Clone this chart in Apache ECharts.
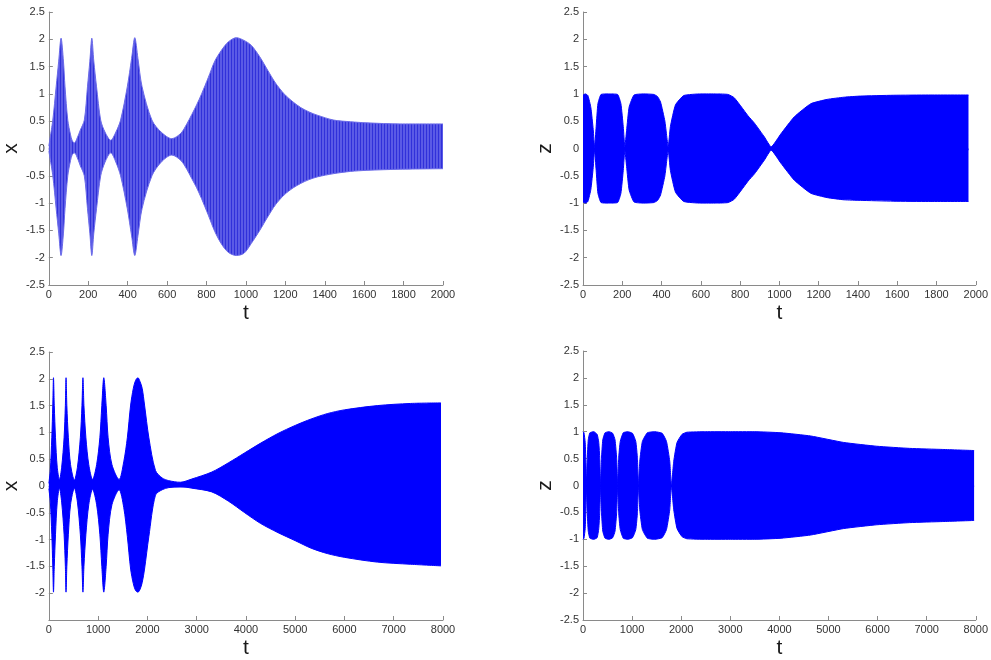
<!DOCTYPE html>
<html>
<head>
<meta charset="utf-8">
<script src="https://cdn.jsdelivr.net/npm/echarts@6/dist/echarts.min.js"></script>
<style>
    html, body { margin: 0; padding: 0; background: #fff; }
    #divChart { width: 991px; height: 660px; }
</style>
</head>
<body>
<div id="divChart"></div>
<script>
    // top left: x(t), t in [0, 2000]  -- envelope
    var tlT = [0, 20, 37, 50, 62, 74, 82, 96, 110, 118, 129, 140, 160, 180, 196, 208, 218, 228, 242, 263, 285, 314,
               340, 364, 398, 420, 436, 452, 473, 523, 570, 624, 670, 700, 725, 750, 775, 809, 842, 876, 910, 951,
               990, 1027, 1070, 1111, 1150, 1194, 1240, 1278, 1320, 1362, 1446, 1530, 1614, 1782, 2000];
    var tlUpper = [0.05, 0.52, 1.13, 1.6, 2.02, 1.6, 1.13, 0.52, 0.25, 0.15, 0.1, 0.16, 0.34, 0.52, 1.13, 1.6, 2.02, 1.6, 1.13, 0.52, 0.3, 0.15,
                   0.3, 0.52, 1.13, 1.65, 2.03, 1.65, 1.13, 0.52, 0.3, 0.18, 0.28, 0.45, 0.62, 0.8, 1.0, 1.3, 1.6, 1.8, 1.95, 2.03,
                   1.98, 1.89, 1.68, 1.43, 1.2, 1.0, 0.85, 0.75, 0.67, 0.61, 0.52, 0.49, 0.47, 0.45, 0.45];
    var tlLower = [-0.05, -0.5, -1.1, -1.55, -1.96, -1.55, -1.1, -0.5, -0.22, -0.12, -0.08, -0.13, -0.32, -0.5, -1.1, -1.55, -1.96, -1.55, -1.1, -0.5, -0.25, -0.08,
                   -0.25, -0.5, -1.1, -1.6, -1.96, -1.6, -1.1, -0.5, -0.25, -0.12, -0.22, -0.38, -0.55, -0.72, -0.92, -1.22, -1.52, -1.75, -1.9, -1.96,
                   -1.92, -1.74, -1.5, -1.25, -1.03, -0.85, -0.72, -0.64, -0.57, -0.52, -0.46, -0.42, -0.4, -0.38, -0.37];

    // top right: z(t), t in [0, 1963]
    var trT = [0, 12, 25, 40, 52, 59, 67, 76, 92, 130, 176, 193, 205, 213, 222, 235, 260, 310, 361, 380,
               395, 417, 434, 445, 471, 513, 600, 680, 739, 770, 807, 840, 874, 924, 958, 1008, 1076, 1160, 1244, 1330,
               1412, 1580, 1760, 1963];
    var trUpper = [0.98, 1.0, 0.97, 0.75, 0.35, 0.02, 0.4, 0.82, 0.99, 1.0, 0.99, 0.82, 0.4, 0.03, 0.33, 0.76, 0.98, 1.0, 0.99, 0.95,
                   0.85, 0.5, 0.03, 0.4, 0.8, 0.97, 1.0, 1.0, 0.99, 0.93, 0.76, 0.6, 0.46, 0.21, 0.03, 0.27, 0.58, 0.82, 0.9, 0.94,
                   0.96, 0.975, 0.98, 0.98];
    var trLower = [-0.98, -1.0, -0.97, -0.75, -0.35, -0.02, -0.4, -0.82, -0.99, -1.0, -0.99, -0.82, -0.4, -0.03, -0.33, -0.76, -0.98, -1.0, -0.99, -0.95,
                   -0.85, -0.5, -0.03, -0.4, -0.8, -0.97, -1.0, -1.0, -0.99, -0.93, -0.76, -0.6, -0.46, -0.21, -0.03, -0.27, -0.58, -0.82, -0.9, -0.94,
                   -0.95, -0.965, -0.97, -0.97];

    // bottom left: x(t), t in [0, 7960]
    var blT = [0, 30, 60, 80, 94, 110, 135, 170, 215, 260, 309, 335, 349, 365, 396, 440, 518, 580, 639, 672,
               692, 712, 752, 810, 887, 970, 1035, 1075, 1115, 1163, 1203, 1280, 1425, 1520, 1593, 1660, 1714, 1760, 1808, 1850,
               1895, 1942, 2030, 2164, 2300, 2433, 2668, 2900, 3306, 3640, 3978, 4300, 4651, 5000, 5323, 5650, 5995, 6667, 7339, 7960];
    var blUpper = [0.05, 0.3, 0.9, 1.5, 2.02, 1.5, 0.9, 0.35, 0.12, 0.35, 0.9, 1.5, 2.02, 1.5, 0.9, 0.4, 0.11, 0.35, 0.9, 1.5,
                   2.02, 1.5, 0.9, 0.4, 0.12, 0.4, 0.9, 1.5, 2.02, 1.5, 0.9, 0.4, 0.12, 0.45, 0.9, 1.51, 1.82, 1.97, 2.02, 1.95,
                   1.82, 1.51, 0.9, 0.29, 0.15, 0.1, 0.07, 0.13, 0.26, 0.43, 0.62, 0.8, 0.98, 1.13, 1.25, 1.35, 1.42, 1.5, 1.54, 1.55];
    var blLower = [-0.05, -0.3, -0.9, -1.5, -1.98, -1.5, -0.9, -0.3, -0.04, -0.3, -0.9, -1.5, -1.98, -1.5, -0.9, -0.35, -0.04, -0.3, -0.9, -1.5,
                   -1.98, -1.5, -0.9, -0.35, -0.06, -0.35, -0.9, -1.5, -1.98, -1.5, -0.9, -0.35, -0.07, -0.4, -0.94, -1.55, -1.82, -1.95, -1.98, -1.93,
                   -1.8, -1.55, -0.94, -0.17, -0.07, -0.03, -0.01, -0.04, -0.11, -0.28, -0.5, -0.7, -0.87, -1.02, -1.16, -1.26, -1.33, -1.42, -1.46, -1.49];

    // bottom right: z(t), t in [0, 7966]
    var brT = [0, 20, 45, 60, 67, 87, 107, 141, 220, 288, 321, 341, 357, 377, 403, 450, 530, 605, 652, 686,
               706, 726, 759, 820, 910, 1008, 1075, 1109, 1129, 1156, 1210, 1310, 1460, 1613, 1700, 1767, 1800, 1848, 1915, 2016,
               2116, 2500, 3000, 3500, 4034, 4639, 5311, 5983, 6655, 7328, 7966];
    var brUpper = [1.0, 0.98, 0.8, 0.4, 0.0, 0.5, 0.85, 0.98, 1.0, 0.95, 0.8, 0.5, 0.0, 0.5, 0.85, 0.98, 1.0, 0.97, 0.85, 0.5,
                   0.0, 0.5, 0.82, 0.98, 1.0, 0.97, 0.82, 0.5, 0.0, 0.45, 0.82, 0.98, 1.0, 0.97, 0.82, 0.45, 0.0, 0.45, 0.8, 0.95,
                   0.99, 1.0, 1.0, 1.0, 0.98, 0.92, 0.8, 0.73, 0.69, 0.67, 0.65];
    var brLower = [-1.0, -0.98, -0.8, -0.4, 0.0, -0.5, -0.85, -0.98, -1.0, -0.97, -0.8, -0.5, 0.0, -0.5, -0.85, -0.98, -1.0, -0.97, -0.85, -0.5,
                   0.0, -0.5, -0.82, -0.98, -1.0, -0.97, -0.82, -0.5, 0.0, -0.45, -0.82, -0.98, -1.0, -0.97, -0.82, -0.45, 0.0, -0.45, -0.8, -0.95,
                   -0.99, -1.0, -1.0, -1.0, -0.98, -0.92, -0.8, -0.73, -0.69, -0.67, -0.65];

    var yTicks = [-2.5, 2.5, 0.5];   // min, max, step
    var tShortMax = 2000, tShortStep = 200;
    var tLongMax = 8000, tLongStep = 1000;

    var fontName = 'Liberation Sans';
    var blue = '#0000ff';

    // striped fill for the top-left panel (dense oscillation look)
    function stripes() {
        var c = document.createElement('canvas');
        c.width = 3;
        c.height = 1;
        var ctx = c.getContext('2d');
        ctx.fillStyle = '#5a5ae6';
        ctx.fillRect(0, 0, 3, 1);
        ctx.fillStyle = '#3030da';
        ctx.fillRect(0, 0, 1, 1);
        return c;
    }

    function makeX(idx, max, step) {
        return {
            gridIndex: idx, type: 'value', min: 0, max: max, interval: step,
            name: 't', nameLocation: 'middle', nameGap: 18,
            nameTextStyle: { fontFamily: fontName, fontSize: 21, color: '#1a1a1a' },
            axisLine: { onZero: false, lineStyle: { color: '#8a8a8a', width: 1 } },
            axisTick: { inside: true, length: 4, lineStyle: { color: '#8a8a8a' } },
            axisLabel: {
                margin: 4, fontFamily: fontName, fontSize: 11, color: '#333',
                formatter: function (v) { return String(v); }
            },
            splitLine: { show: false }
        };
    }

    function makeY(idx, label, hideMin) {
        return {
            gridIndex: idx, type: 'value', min: yTicks[0], max: yTicks[1], interval: yTicks[2],
            name: label, nameLocation: 'middle', nameGap: 20,
            nameTextStyle: { fontFamily: fontName, fontSize: 21, color: '#1a1a1a' },
            axisLine: { show: true, onZero: false, lineStyle: { color: '#8a8a8a', width: 1 } },
            axisTick: { show: true, inside: true, length: 4, lineStyle: { color: '#8a8a8a' } },
            axisLabel: { margin: 4, fontFamily: fontName, fontSize: 11, color: '#333', showMinLabel: !hideMin },
            splitLine: { show: false }
        };
    }

    // one envelope edge, filled towards zero (upper edge overlaps zero a little to avoid a seam)
    function edge(idx, ts, vs, fill, stroke, smooth, origin) {
        var data = [];
        for (var i = 0; i < ts.length; i++) {
            data.push([ts[i], vs[i]]);
        }
        return {
            type: 'line', xAxisIndex: idx, yAxisIndex: idx,
            data: data, symbol: 'none', smooth: smooth, silent: true,
            lineStyle: { color: stroke, width: 1 },
            areaStyle: { color: fill, opacity: 1, origin: origin }
        };
    }

    var stripeFill = { image: stripes(), repeat: 'repeat' };

    var myChart = echarts.init(document.getElementById('divChart'));
    var option = {
        animation: false,
        backgroundColor: '#fff',
        grid: [
            { left: 46, width: 397, top: 12, height: 273 },
            { left: 583, width: 397, top: 12, height: 273 },
            { left: 46, width: 397, top: 352, height: 272 },
            { left: 583, width: 397, top: 351, height: 273 }
        ],
        xAxis: [
            makeX(0, tShortMax, tShortStep),
            makeX(1, tShortMax, tShortStep),
            makeX(2, tLongMax, tLongStep),
            makeX(3, tLongMax, tLongStep)
        ],
        yAxis: [
            makeY(0, 'x', false),
            makeY(1, 'z', false),
            makeY(2, 'x', true),
            makeY(3, 'z', false)
        ],
        series: [
            edge(0, tlT, tlLower, stripeFill, '#6a6ae8', 0.3, 0),
            edge(0, tlT, tlUpper, stripeFill, '#6a6ae8', 0.3, -0.03),
            edge(1, trT, trLower, blue, blue, 0.15, 0),
            edge(1, trT, trUpper, blue, blue, 0.15, -0.03),
            edge(2, blT, blLower, blue, blue, 0.3, 0),
            edge(2, blT, blUpper, blue, blue, 0.3, -0.03),
            edge(3, brT, brLower, blue, blue, 0.15, 0),
            edge(3, brT, brUpper, blue, blue, 0.15, -0.03)
        ]
    };
    myChart.setOption(option);
</script>
</body>
</html>
